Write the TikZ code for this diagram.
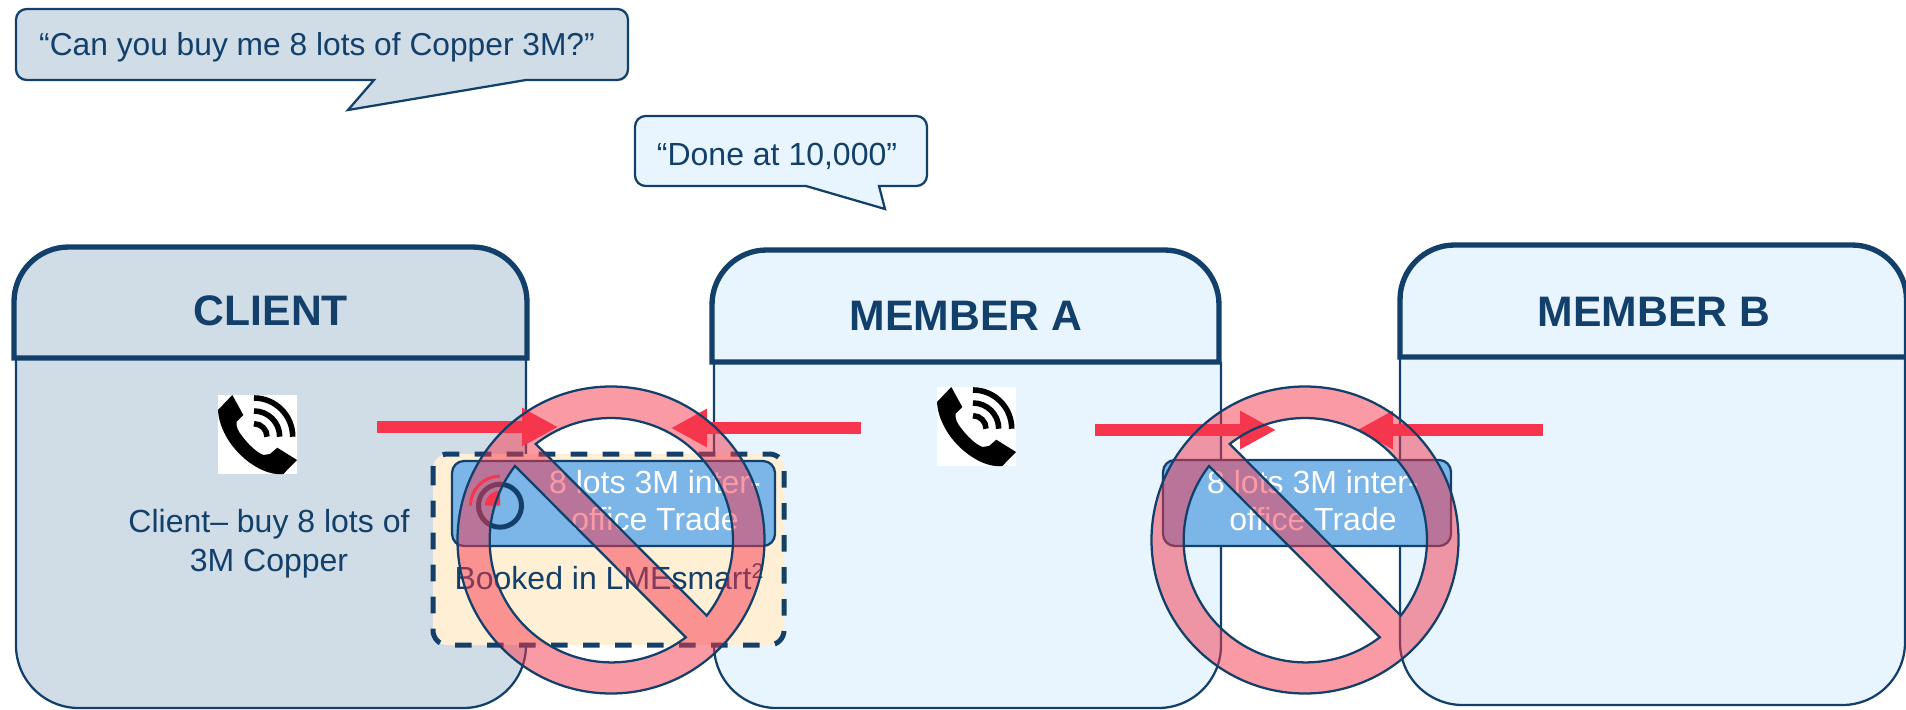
\documentclass[tikz,border=0pt]{standalone}
\usepackage{xcolor}
\usepackage{fontspec}
\setmainfont{Liberation Sans}
\usetikzlibrary{arrows.meta,positioning}
\definecolor{navy}{HTML}{12406B}
\definecolor{clientfill}{HTML}{D0DCE6}
\definecolor{memberfill}{HTML}{E8F5FF}
\definecolor{tradeblue}{HTML}{7CB5E8}
\definecolor{bookfill}{HTML}{FFF0D5}
\definecolor{alarm}{HTML}{F5364C}

\begin{document}
\begin{tikzpicture}[
  x=0.75pt, y=-0.75pt,
  panelhead/.style={draw=navy, line width=4pt},
  panelbody/.style={draw=navy, line width=1.7pt, rounded corners=47pt},
  heading/.style={text=navy, font=\fontsize{32}{38}\selectfont\bfseries},
  label/.style={text=navy, align=center, font=\fontsize{24}{29}\selectfont},
  bubble/.style={draw=navy, line width=1.7pt},
  trade/.style={draw=navy, line width=1.7pt, fill=tradeblue, rounded corners=9pt},
  tradetext/.style={text=white, align=center, font=\fontsize{24}{27.5}\selectfont},
  arr/.style={-{Triangle[length=27pt,width=27pt]}, alarm, line width=9.2pt},
  nosign/.style={draw=navy, line width=1.7pt, fill=alarm, fill opacity=0.5, draw opacity=1, even odd rule},
  phone/.pic={
    \fill[white] (0,0) rectangle (79,79);
    \fill[black] (0,15) -- (14.3,0) -- (25.3,20) -- (18.7,26.7) .. controls (18,32) and (20,36) .. (24,41)
      .. controls (30,49) and (38,57) .. (45.3,60) -- (52,59) -- (59.3,52.7) -- (79,65) -- (65.3,79)
      .. controls (40,82) and (2,50) .. (0,15) -- cycle;
    \foreach \rad in {13,25.7,38.7}
      \draw[black, line width=4.2pt] (36,41.7-\rad) arc[start angle=-90, end angle=0, radius=\rad];
  }
]
  \useasboundingbox (0,0) rectangle (1906,710);

  % panels
  \draw[panelbody, fill=clientfill] (16,358) -- (16,708) -- (526,708) [sharp corners] -- (526,358);
  \draw[panelhead, fill=clientfill] (14,358) [rounded corners=41pt] -- (14,247) -- (527,247) [sharp corners] -- (527,358) -- cycle;
  \draw[panelbody, fill=memberfill] (714,362) -- (714,708) -- (1221,708) [sharp corners] -- (1221,362);
  \draw[panelhead, fill=memberfill] (712,362) [rounded corners=41pt] -- (712,250) -- (1219,250) [sharp corners] -- (1219,362) -- cycle;
  \draw[panelbody, fill=memberfill] (1400,357) -- (1400,705) -- (1905,705) [sharp corners] -- (1905,357);
  \draw[panelhead, fill=memberfill] (1400,357) [rounded corners=41pt] -- (1400,245) -- (1906.5,245) [sharp corners] -- (1906.5,357) -- cycle;
  \node[heading] (client) at (271,311) {CLIENT};
  \node[heading] (membera) at (966,316) {MEMBER A};
  \node[heading] (memberb) at (1654,312) {MEMBER B};

  % speech bubbles
  \draw[bubble, fill=clientfill, rounded corners=8pt] (16,9) -- (628,9) -- (628,80) [sharp corners] -- (526,80) -- (348,110) -- (374,80) [rounded corners=8pt] -- (16,80) -- cycle;
  \node[label, font=\fontsize{23.8}{29}\selectfont] (ask) at (317,47) {“Can you buy me 8 lots of Copper 3M?”};
  \draw[bubble, fill=memberfill, rounded corners=8pt] (635,116) -- (927,116) -- (927,186) [sharp corners] -- (879,186) -- (885,209) -- (806,186) [rounded corners=8pt] -- (635,186) -- cycle;
  \node[label] (done) at (777,156) {“Done at 10,000”};

  % phones
  \pic at (218,395) {phone};
  \pic at (937,387) {phone};
  \node[label] (buy) at (269,544) {Client– buy 8 lots of\\3M Copper};

  % arrows
  \coordinate (a1) at (377,427);
  \coordinate (a2) at (558,427);
  \coordinate (b1) at (861,428);
  \coordinate (b2) at (671,428);
  \coordinate (c1) at (1095,430);
  \coordinate (c2) at (1276,430);
  \coordinate (d1) at (1543,430);
  \coordinate (d2) at (1357,430);
  \draw[arr] (a1) -- (a2);
  \draw[arr] (b1) -- (b2);
  \draw[arr] (c1) -- (c2);
  \draw[arr] (d1) -- (d2);

  % booked trade
  \draw[navy, line width=3.75pt, fill=bookfill, rounded corners=11pt, dash pattern=on 12.5pt off 11.5pt] (433,454) rectangle (784,645);
  \draw[trade] (452,461) rectangle (775,546);
  \node[tradetext] (tradea) at (655,500.5) {8 lots 3M inter-\\office Trade};
  \node[label] (booked) at (609,577) {Booked in LMEsmart\raisebox{8pt}{\fontsize{16}{16}\selectfont 2}};
  \draw[navy, line width=3.75pt] (500,505.7) circle (21.5);
  \fill[alarm] (469,505.7) arc[start angle=180, end angle=270, radius=31] -- ++(0,3) arc[start angle=270, end angle=180, radius=28] -- cycle;
  \fill[alarm] (485,505.7) arc[start angle=180, end angle=270, radius=15] -- ++(0,15) -- cycle;
  \draw[trade] (1163,460) rectangle (1451,546);
  \node[tradetext] (tradeb) at (1313,500.5) {8 lots 3M inter-\\office Trade};

  % prohibition signs
  \foreach \cx in {611,1305} {
    \draw[nosign] (\cx,540) circle (153.5)
      (\cx-75.3,444) arc[start angle=-128.1, end angle=38.3, radius=122] -- cycle
      (\cx-96,466) arc[start angle=217.6, end angle=52.6, radius=122] -- cycle;
  }
\end{tikzpicture}
\end{document}
